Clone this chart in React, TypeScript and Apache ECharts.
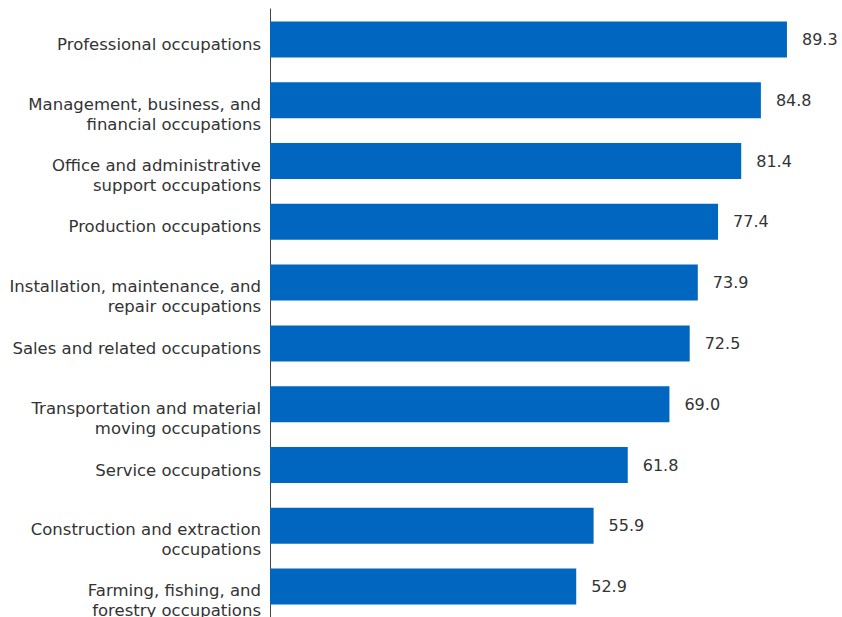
import React, { useEffect, useRef } from "react";
import * as echarts from "echarts";

const categories = [
  "Professional occupations",
  "Management, business, and\nfinancial occupations",
  "Office and administrative\nsupport occupations",
  "Production occupations",
  "Installation, maintenance, and\nrepair occupations",
  "Sales and related occupations",
  "Transportation and material\nmoving occupations",
  "Service occupations",
  "Construction and extraction\noccupations",
  "Farming, fishing, and\nforestry occupations",
];
const values = [89.3, 84.8, 81.4, 77.4, 73.9, 72.5, 69.0, 61.8, 55.9, 52.9];

export default function App() {
  const ref = useRef<HTMLDivElement>(null);
  useEffect(() => {
    const chart = echarts.init(ref.current!, null, { renderer: "svg" });
    const font = "'DejaVu Sans', sans-serif";
    chart.setOption({
      animation: false,
      backgroundColor: "#ffffff",
      grid: {
        left: 270,
        top: 9,
        width: 521,
        height: 608,
        containLabel: false,
        outerBoundsMode: "none",
      },
      xAxis: {
        type: "value",
        min: 0,
        max: 90,
        show: false,
      },
      yAxis: {
        type: "category",
        inverse: true,
        data: categories,
        axisLine: { show: true, lineStyle: { color: "#444444", width: 1 } },
        axisTick: { show: false },
        splitLine: { show: false },
        axisLabel: {
          interval: 0,
          showMinLabel: true,
          showMaxLabel: true,
          hideOverlap: false,
          color: "#333333",
          fontSize: 16.5,
          fontFamily: font,
          lineHeight: 20,
          margin: 9,
          align: "right",
          formatter: (v: string) => {
            const lines = v.split("\n");
            const gap = lines.length > 1 ? "{g2| }" : "{g1| }";
            return gap + "\n" + lines.map((l) => `{a|${l}}`).join("\n");
          },
          rich: {
            g1: { fontSize: 1, lineHeight: 10 },
            g2: { fontSize: 1, lineHeight: 28 },
            a: {
              color: "#333333",
              fontSize: 16.5,
              fontFamily: font,
              lineHeight: 20,
            },
          },
        },
      },
      series: [
        {
          type: "bar",
          data: values,
          barWidth: 36,
          itemStyle: { color: "#0066BF" },
          label: {
            show: true,
            position: "right",
            distance: 15,
            color: "#333333",
            fontSize: 16,
            fontFamily: font,
            formatter: (p: any) => Number(p.value).toFixed(1),
          },
        },
      ],
    });
    return () => chart.dispose();
  }, []);
  return <div ref={ref} style={{ width: 842, height: 617, position: "absolute", left: 0, top: 0 }} />;
}
